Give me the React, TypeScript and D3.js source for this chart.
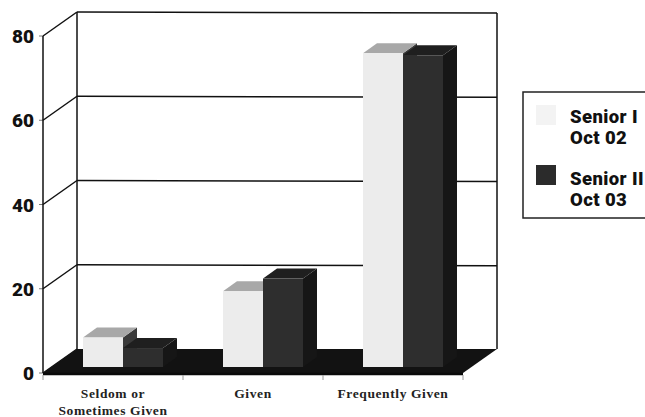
import React, { useEffect, useRef } from "react";
import * as d3 from "d3";

const categories = ["Seldom or|Sometimes Given", "Given", "Frequently Given"];
const seniorOne = [7, 18, 74.5];
const seniorTwo = [4.5, 21, 74];
const yTicks = [0, 20, 40, 60, 80];
const legendItems = [
  { lines: ["Senior I", "Oct 02"], front: "#f3f3f3" },
  { lines: ["Senior II", "Oct 03"], front: "#2b2b2b" },
];

const App: React.FC = () => {
  const ref = useRef<SVGSVGElement>(null);

  useEffect(() => {
    if (!ref.current) return;
    const svg = d3.select(ref.current);
    svg.selectAll("*").remove();

    const width = 645;
    const height = 417;
    svg.attr("width", width).attr("height", height);

    const wallDx = 34;
    const wallDy = -24;
    const barDx = 14;
    const barDy = -10;
    const barLift = 6;
    const barShift = 10;

    const x = d3.scaleBand().domain(categories).range([43, 463]).paddingInner(0.4286).paddingOuter(0.2143);
    const xInner = d3.scaleBand().domain(["one", "two"]).range([0, x.bandwidth()]);
    const y = d3.scaleLinear().domain([0, 80]).range([373, 36]);

    const poly = (pts: number[][], fill: string, stroke = "none", sw = 0) =>
      svg.append("polygon")
        .attr("points", pts.map((p) => p.join(",")).join(" "))
        .attr("fill", fill)
        .attr("stroke", stroke)
        .attr("stroke-width", sw);

    const line = (x1: number, y1: number, x2: number, y2: number, sw = 1.5, color = "#111") =>
      svg.append("line")
        .attr("x1", x1).attr("y1", y1).attr("x2", x2).attr("y2", y2)
        .attr("stroke", color).attr("stroke-width", sw);

    const x0 = x.range()[0];
    const x1 = x.range()[1];

    // walls
    yTicks.forEach((t) => {
      line(x0, y(t), x0 + wallDx, y(t) + wallDy);
      if (t > 0) line(x0 + wallDx, y(t) + wallDy, x1 + wallDx, y(t) + wallDy + 1);
      line(x0 - 4, y(t), x0, y(t), 1, "#777");
    });
    line(x0, y(0), x0, y(80));
    line(x0 + wallDx, y(0) + wallDy, x0 + wallDx, y(80) + wallDy);
    line(x1 + wallDx, y(0) + wallDy, x1 + wallDx, y(80) + wallDy + 1);

    // floor
    poly([[x0, y(0)], [x1, y(0)], [x1 + wallDx, y(0) + wallDy], [x0 + wallDx, y(0) + wallDy]], "#121212");
    line(x0, y(0) + 1, x1, y(0) + 1, 2.5, "#0a0a0a");

    // ticks under the floor
    d3.range(0, 4).forEach((i) => {
      const tx = x0 + i * x.step();
      line(tx, y(0) + 2, tx, y(0) + 7, 1, "#999");
    });

    // bars
    const base = y(0) - barLift;
    const drawBar = (cat: string, key: string, v: number, front: string, top: string, side: string) => {
      const bx = (x(cat) ?? 0) + (xInner(key) ?? 0) + barShift;
      const bw = xInner.bandwidth();
      const by = y(v) - barLift;
      poly([[bx + bw, base], [bx + bw + barDx, base + barDy], [bx + bw + barDx, by + barDy], [bx + bw, by]], side);
      poly([[bx, by], [bx + bw, by], [bx + bw + barDx, by + barDy], [bx + barDx, by + barDy]], top);
      svg.append("rect")
        .attr("x", bx).attr("y", by)
        .attr("width", bw).attr("height", base - by)
        .attr("fill", front);
    };

    categories.forEach((c, i) => {
      drawBar(c, "one", seniorOne[i], "#ececec", "#a8a8a8", "#3a3a3a");
      drawBar(c, "two", seniorTwo[i], "#2e2e2e", "#1f1f1f", "#161616");
    });

    // y tick labels
    svg.append("g")
      .selectAll("text")
      .data(yTicks)
      .enter().append("text")
      .attr("x", 34)
      .attr("y", (d) => y(d) + 7)
      .attr("text-anchor", "end")
      .attr("font-family", "Roboto")
      .attr("font-weight", 900)
      .attr("font-size", 19)
      .attr("fill", "#111")
      .text((d) => d);

    // category labels
    categories.forEach((c) => {
      const cx = (x(c) ?? 0) + x.bandwidth() / 2;
      c.split("|").forEach((l, i) => {
        svg.append("text")
          .attr("x", cx)
          .attr("y", 398 + i * 16.5)
          .attr("text-anchor", "middle")
          .attr("font-family", "Liberation Serif")
          .attr("font-weight", 700)
          .attr("font-size", 13.5)
          .attr("letter-spacing", 0.6)
          .attr("fill", "#222")
          .text(l);
      });
    });

    // legend, runs past the right edge of the page
    svg.append("rect")
      .attr("x", 523).attr("y", 92)
      .attr("width", 140).attr("height", 126)
      .attr("fill", "#fff")
      .attr("stroke", "#222")
      .attr("stroke-width", 1.5);

    legendItems.forEach((item, i) => {
      const top = 105 + i * 60;
      svg.append("rect")
        .attr("x", 536).attr("y", top)
        .attr("width", 20).attr("height", 20)
        .attr("fill", item.front);
      item.lines.forEach((l, j) => {
        svg.append("text")
          .attr("x", 570)
          .attr("y", top + 18 + i * 2 + j * 21)
          .attr("font-family", "Roboto")
          .attr("font-weight", 900)
          .attr("font-size", 18.5)
          .attr("letter-spacing", 0.4)
          .attr("fill", "#111")
          .text(l);
      });
    });
  }, []);

  return <svg ref={ref} style={{ position: "absolute", left: 0, top: 0 }}></svg>;
};

export default App;
